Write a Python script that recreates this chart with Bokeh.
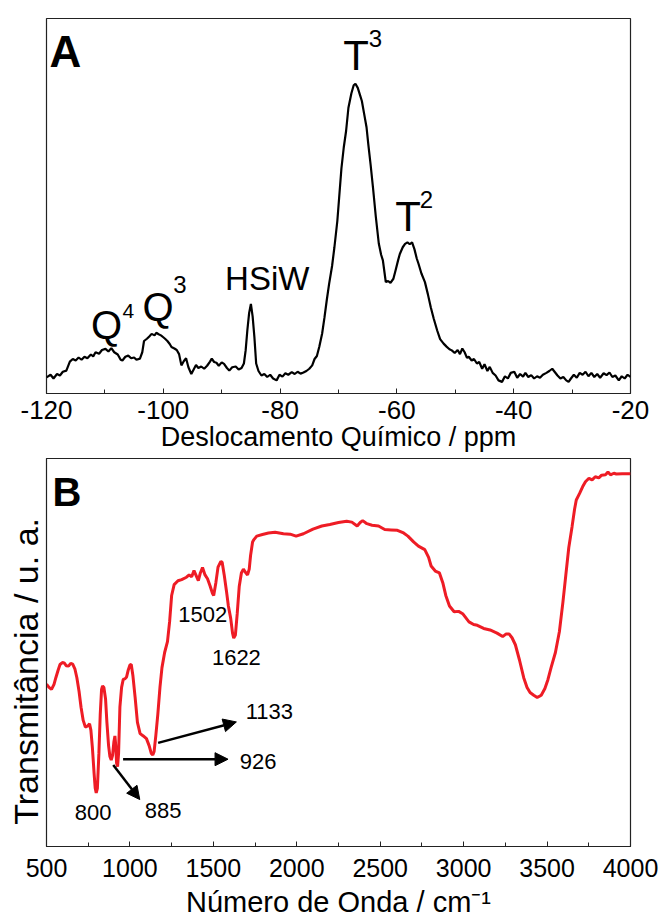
import math
from bokeh.plotting import figure
from bokeh.layouts import column
from bokeh.models import Range1d, Label, Arrow, NormalHead, FixedTicker
from bokeh.embed import file_html
from bokeh.resources import INLINE

FONT = "Liberation Sans"

# ---------------- Panel A: 29Si NMR ----------------
nmr_ppm = [-120, -119.3, -118.8, -118.2, -117.7, -117.2, -116.6, -116.0, -115.5, -115.0, -114.5, -114.0,
           -113.5, -113.0, -112.4, -112.0, -111.6, -111.0, -110.5, -109.9, -109.4, -108.9, -108.4, -107.8,
           -107.3, -107.0, -106.5, -106.0, -105.5, -105.0, -104.6, -104.0, -103.6, -103.3, -102.8, -102.4,
           -102.0, -101.5, -101.2, -100.8, -100.4, -100.0, -99.7, -99.3, -98.9, -98.6, -98.1, -97.7, -97.3,
           -96.9, -96.5, -96.1, -95.7, -95.2, -94.8, -94.4, -94.0, -93.5, -93.0, -92.5, -92.0, -91.7, -91.3,
           -90.9, -90.5, -90.0, -89.6, -89.1, -88.7, -88.2, -87.6, -87.1, -86.6, -86.2, -85.9, -85.6, -85.3,
           -85.0, -84.7, -84.4, -84.1, -83.7, -83.2, -82.7, -82.2, -81.7, -81.2, -80.6, -80.1, -79.6, -79.1,
           -78.6, -78.0, -77.5, -77.0, -76.5, -76.0, -75.5, -75.0, -74.5, -74.1, -73.7, -73.3, -72.8, -72.4,
           -72.0, -71.6, -71.1, -70.7, -70.2, -69.9, -69.5, -69.1, -68.7, -68.3, -67.8, -67.4, -67.1, -66.7,
           -66.3, -66.0, -65.6, -65.2, -64.9, -64.5, -64.1, -63.6, -63.1, -62.7, -62.4, -62.1, -61.9, -61.5,
           -61.1, -60.6, -60.2, -59.8, -59.5, -59.0, -58.6, -58.2, -57.8, -57.4, -57.0, -56.6, -56.3, -55.8,
           -55.2, -54.7, -54.2, -53.7, -53.1, -52.6, -52.0, -51.5, -51.0, -50.6, -50.1, -49.6, -49.2, -48.8,
           -48.4, -48.0, -47.7, -47.2, -46.8, -46.3, -45.9, -45.4, -45.0, -44.5, -44.1, -43.6, -43.1, -42.6,
           -42.0, -41.5, -41.0, -40.5, -39.9, -39.4, -38.9, -38.4, -38.0, -37.5, -37.0, -36.5, -36.0, -35.5,
           -35.0, -34.4, -33.9, -33.4, -33.0, -32.5, -32.0, -31.5, -31.0, -30.6, -30.2, -29.7, -29.2, -28.7,
           -28.2, -27.7, -27.2, -26.7, -26.2, -25.7, -25.2, -24.6, -24.1, -23.6, -23.1, -22.6, -22.0, -21.5,
           -21.0, -20.5, -20.0]
nmr_int = [0.043, 0.050, 0.040, 0.052, 0.048, 0.058, 0.061, 0.085, 0.092, 0.088, 0.096, 0.090,
           0.098, 0.094, 0.104, 0.099, 0.110, 0.106, 0.116, 0.119, 0.112, 0.121, 0.110, 0.104,
           0.090, 0.088, 0.098, 0.101, 0.094, 0.096, 0.090, 0.093, 0.110, 0.140, 0.146, 0.152,
           0.159, 0.155, 0.162, 0.158, 0.155, 0.150, 0.146, 0.140, 0.132, 0.124, 0.120, 0.116, 0.105,
           0.075, 0.086, 0.094, 0.070, 0.052, 0.064, 0.076, 0.068, 0.072, 0.066, 0.074, 0.085, 0.093, 0.084,
           0.082, 0.074, 0.083, 0.079, 0.068, 0.061, 0.070, 0.072, 0.064, 0.068, 0.080, 0.115, 0.170, 0.215,
           0.239, 0.205, 0.150, 0.080, 0.060, 0.048, 0.052, 0.044, 0.050, 0.040, 0.035, 0.050, 0.045, 0.054,
           0.050, 0.057, 0.052, 0.058, 0.053, 0.056, 0.060, 0.066, 0.075, 0.092, 0.100, 0.124, 0.160, 0.203,
           0.250, 0.293, 0.340, 0.390, 0.460, 0.520, 0.600, 0.656, 0.700, 0.762, 0.800, 0.822, 0.826, 0.815,
           0.795, 0.780, 0.745, 0.710, 0.665, 0.610, 0.550, 0.470, 0.400, 0.370, 0.355, 0.320, 0.297, 0.300,
           0.295, 0.306, 0.330, 0.355, 0.372, 0.390, 0.399, 0.403, 0.398, 0.403, 0.385, 0.360, 0.346, 0.320,
           0.297, 0.265, 0.230, 0.200, 0.168, 0.145, 0.133, 0.125, 0.118, 0.115, 0.108, 0.116, 0.105, 0.120,
           0.110, 0.095, 0.098, 0.088, 0.092, 0.080, 0.084, 0.066, 0.078, 0.060, 0.071, 0.055, 0.048, 0.035,
           0.031, 0.046, 0.040, 0.055, 0.058, 0.042, 0.052, 0.045, 0.055, 0.044, 0.049, 0.040, 0.046, 0.042,
           0.050, 0.055, 0.060, 0.066, 0.058, 0.048, 0.040, 0.044, 0.035, 0.031, 0.040, 0.050, 0.042, 0.055,
           0.050, 0.058, 0.046, 0.055, 0.044, 0.052, 0.042, 0.054, 0.049, 0.056, 0.044, 0.048, 0.035, 0.046,
           0.040, 0.050, 0.044]
nmr_ticks = [-120, -100, -80, -60, -40, -20]
nmr_minor = [-110, -90, -70, -50, -30]
nmr_xlabel = "Deslocamento Químico / ppm"

# ---------------- Panel B: FTIR ----------------
ir_wn = [500, 515, 530, 545, 556, 570, 581, 595, 606, 618, 632, 645, 657, 670, 682, 695, 707, 720, 733, 745,
         758, 766, 775, 785, 792, 798, 805, 814, 822, 830, 836, 844, 854, 862, 872, 880, 888, 896, 904, 910,
         915, 920, 926, 932, 940, 950, 960, 970, 980, 990, 1000, 1008, 1018, 1031, 1045, 1061, 1080, 1099,
         1115, 1128, 1137, 1145, 1155, 1167, 1180, 1192, 1208, 1225, 1238, 1250, 1265, 1288, 1310, 1339,
         1355, 1370, 1384, 1395, 1410, 1422, 1435, 1450, 1465, 1480, 1495, 1502, 1515, 1528, 1545, 1553,
         1565, 1578, 1590, 1604, 1615, 1622, 1632, 1643, 1655, 1668, 1680, 1693, 1705, 1715, 1723, 1735,
         1743, 1760, 1794, 1830, 1870, 1920, 1960, 1996, 2040, 2097, 2150, 2198, 2250, 2299, 2330, 2362,
         2380, 2395, 2420, 2451, 2490, 2527, 2565, 2603, 2640, 2666, 2700, 2729, 2767, 2790, 2805, 2830,
         2855, 2875, 2893, 2915, 2943, 2970, 2994, 3032, 3060, 3082, 3120, 3158, 3200, 3234, 3255, 3272,
         3290, 3310, 3335, 3360, 3380, 3398, 3420, 3441, 3465, 3487, 3505, 3524, 3550, 3574, 3595, 3612,
         3630, 3650, 3665, 3675, 3695, 3713, 3730, 3751, 3770, 3789, 3810, 3827, 3850, 3865, 3880, 3900,
         3915, 3950, 4000]
ir_t = [0.418, 0.410, 0.405, 0.418, 0.435, 0.455, 0.469, 0.474, 0.473, 0.466, 0.465, 0.472, 0.470, 0.458,
        0.435, 0.400, 0.359, 0.325, 0.308, 0.310, 0.316, 0.300, 0.255, 0.190, 0.150, 0.138, 0.150, 0.240,
        0.340, 0.405, 0.414, 0.410, 0.380, 0.320, 0.260, 0.232, 0.223, 0.235, 0.270, 0.285, 0.260, 0.215,
        0.206, 0.240, 0.360, 0.410, 0.431, 0.432, 0.437, 0.455, 0.468, 0.469, 0.440, 0.385, 0.320, 0.291,
        0.285, 0.278, 0.260, 0.240, 0.236, 0.245, 0.285, 0.340, 0.410, 0.461, 0.500, 0.528, 0.580, 0.647,
        0.675, 0.685, 0.688, 0.694, 0.700, 0.695, 0.711, 0.700, 0.685, 0.705, 0.719, 0.700, 0.690, 0.672,
        0.652, 0.647, 0.680, 0.720, 0.735, 0.732, 0.700, 0.660, 0.620, 0.588, 0.550, 0.537, 0.545, 0.600,
        0.670, 0.705, 0.715, 0.706, 0.700, 0.715, 0.750, 0.785, 0.791, 0.800, 0.804, 0.808, 0.810, 0.806,
        0.805, 0.800, 0.806, 0.818, 0.826, 0.830, 0.835, 0.838, 0.836, 0.826, 0.835, 0.840, 0.832, 0.828,
        0.826, 0.817, 0.816, 0.815, 0.808, 0.800, 0.785, 0.774, 0.765, 0.745, 0.723, 0.710, 0.705, 0.680,
        0.647, 0.620, 0.605, 0.606, 0.600, 0.579, 0.572, 0.570, 0.562, 0.558, 0.550, 0.541, 0.548, 0.548,
        0.538, 0.520, 0.480, 0.435, 0.410, 0.397, 0.390, 0.384, 0.390, 0.407, 0.430, 0.461, 0.500, 0.554,
        0.630, 0.698, 0.770, 0.825, 0.870, 0.893, 0.910, 0.927, 0.940, 0.949, 0.945, 0.953, 0.950, 0.957,
        0.958, 0.965, 0.958, 0.962, 0.960, 0.961, 0.961]
ir_ticks = [500, 1000, 1500, 2000, 2500, 3000, 3500, 4000]
ir_minor = [750, 1250, 1750, 2250, 2750, 3250, 3750]
ir_xlabel = "Número de Onda / cm\u207b\u00b9"
ir_ylabel = "Transmitância / u. a."

# peak annotations: (text, x, y)
ir_peaks = [("800", 780, 0.087), ("885", 1199, 0.094), ("926", 1658, 0.219),
            ("1133", 1694, 0.349), ("1622", 1638, 0.488), ("1502", 1437, 0.598)]
# arrows: (x_start, y_start, x_end, y_end)
ir_arrows = [(1169, 0.267, 1638, 0.321), (959, 0.225, 1588, 0.225), (900, 0.210, 1059, 0.121)]


def style_axes(p, ticks, minor, font_size, standoff, title, title_size, title_standoff):
    p.grid.visible = False
    p.outline_line_color = "#222222"
    p.outline_line_width = 1.2
    p.background_fill_color = "white"
    p.border_fill_color = "white"
    ax = p.xaxis[0]
    ax.ticker = FixedTicker(ticks=ticks, minor_ticks=minor)
    ax.major_label_overrides = {t: str(t) for t in ticks}
    ax.major_tick_in = 5
    ax.major_tick_out = 0
    ax.minor_tick_in = 4
    ax.minor_tick_out = 0
    ax.axis_line_color = "#222222"
    ax.major_tick_line_color = "#222222"
    ax.minor_tick_line_color = "#222222"
    ax.major_label_text_font = FONT
    ax.major_label_text_font_size = font_size
    ax.major_label_text_color = "black"
    ax.major_label_standoff = standoff
    ax.axis_label = title
    ax.axis_label_text_font = FONT
    ax.axis_label_text_font_size = title_size
    ax.axis_label_text_font_style = "normal"
    ax.axis_label_text_color = "black"
    ax.axis_label_standoff = title_standoff


def lab(p, x, y, text, size, bold=False, align="center"):
    p.add_layout(Label(x=x, y=y, text=text, text_font=FONT, text_font_size=size,
                       text_font_style="bold" if bold else "normal", text_color="black",
                       text_align=align, text_baseline="middle"))


pA = figure(width=662, height=458, x_range=Range1d(-120, -20), y_range=Range1d(0, 1),
            output_backend="svg", toolbar_location=None,
            min_border_left=46, min_border_right=24, min_border_top=18, min_border_bottom=65)
style_axes(pA, nmr_ticks, nmr_minor, "26px", 7, nmr_xlabel, "27px", 0)
pA.yaxis.visible = False
pA.line(nmr_ppm, nmr_int, line_color="black", line_width=2.2)

lab(pA, -119.5, 0.912, "A", "44px", bold=True, align="left")
lab(pA, -109.7, 0.184, "Q", "40px")
lab(pA, -107.0, 0.221, "4", "21px", align="left")
lab(pA, -100.9, 0.232, "Q", "40px")
lab(pA, -98.3, 0.291, "3", "24px", align="left")
lab(pA, -82.2, 0.307, "HSiW", "33px")
lab(pA, -67.0, 0.901, "T", "42px")
lab(pA, -64.8, 0.947, "3", "24px", align="left")
lab(pA, -58.1, 0.472, "T", "42px")
lab(pA, -56.1, 0.517, "2", "24px", align="left")

pB = figure(width=662, height=462, x_range=Range1d(500, 4000), y_range=Range1d(0, 1),
            output_backend="svg", toolbar_location=None,
            min_border_left=46, min_border_right=32, min_border_top=0, min_border_bottom=69)
style_axes(pB, ir_ticks, ir_minor, "25px", 12, ir_xlabel, "29px", 6)
yax = pB.yaxis[0]
yax.ticker = FixedTicker(ticks=[])
yax.major_label_text_font_size = "0px"
yax.major_label_standoff = 0
yax.major_tick_in = 0
yax.major_tick_out = 0
yax.minor_tick_in = 0
yax.minor_tick_out = 0
yax.axis_line_color = "#222222"
yax.axis_label = ir_ylabel + "\u00a0" * 4
yax.axis_label_text_font = FONT
yax.axis_label_text_font_size = "34px"
yax.axis_label_text_font_style = "normal"
yax.axis_label_text_color = "black"
yax.axis_label_standoff = 2
pB.line(ir_wn, ir_t, line_color="#ee1c25", line_width=3)

for (x0, y0, x1, y1) in ir_arrows:
    pB.add_layout(Arrow(x_start=x0, y_start=y0, x_end=x1, y_end=y1, line_color="black", line_width=2.5,
                        end=NormalHead(size=13, fill_color="black", line_color="black", line_width=1)))
for (t, x, y) in ir_peaks:
    if t in ("926", "1133"):
        lab(pB, x, y, t, "22px", align="left")
    else:
        lab(pB, x, y, t, "22px")

lab(pB, 536, 0.913, "B", "40px", bold=True, align="left")

layout = column(pA, pB, spacing=0)
open("out.html", "w").write(file_html(layout, INLINE))
